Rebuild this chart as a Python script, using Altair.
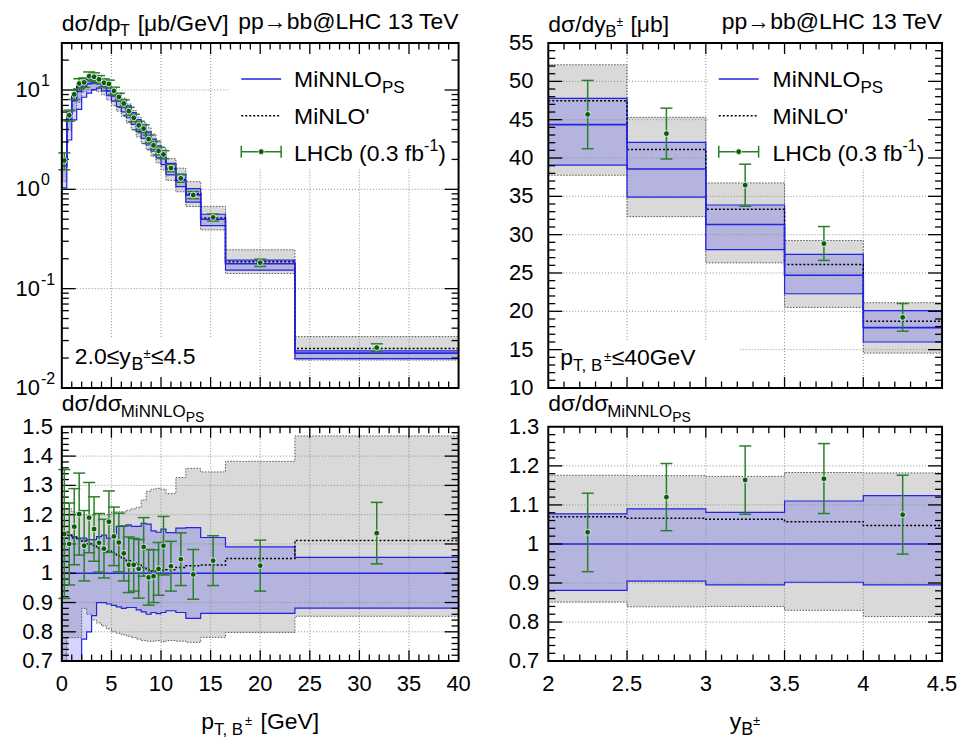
import altair as alt
import pandas as pd

# ---------------- p_T(B+-) spectrum, 2.0 <= y <= 4.5 ----------------
pt_edges = [0, 0.5, 1, 1.5, 2, 2.5, 3, 3.5, 4, 4.5, 5, 5.5, 6, 6.5, 7, 7.5, 8, 8.5, 9,
            9.5, 10, 10.5, 11.5, 12.5, 14, 16.5, 23.5, 40]
# MiNNLO_PS central value [mub/GeV]
pt_minnlo = [1.72, 5.06, 7.8, 9.67, 10.9, 11.6, 11.8, 11.6, 10.9, 9.8, 8.7, 7.7, 6.85, 5.95,
             5.1, 4.35, 3.75, 3.25, 2.8, 2.4, 2.05, 1.6, 1.23, 0.88, 0.50, 0.178, 0.0224]
# everything below relative to MiNNLO_PS central
pt_minnlo_up = [1.14, 1.13, 1.125, 1.12, 1.12, 1.115, 1.115, 1.125, 1.13, 1.12, 1.13, 1.16, 1.16,
                1.165, 1.16, 1.16, 1.17, 1.168, 1.145, 1.14, 1.151, 1.139, 1.154, 1.156, 1.122,
                1.090, 1.054]
pt_minnlo_lo = [0.60, 0.62, 0.64, 0.66, 0.775, 0.80, 0.855, 0.90, 0.90, 0.895, 0.89, 0.885, 0.88,
                0.883, 0.883, 0.875, 0.868, 0.86, 0.866, 0.862, 0.866, 0.872, 0.866, 0.846, 0.863,
                0.863, 0.881]
pt_minlo = [1.14, 1.13, 1.12, 1.115, 1.11, 1.10, 1.095, 1.085, 1.08, 1.075, 1.07, 1.06, 1.05,
            1.043, 1.035, 1.03, 1.02, 1.012, 1.008, 1.008, 1.01, 1.012, 1.02, 1.026, 1.028,
            1.05, 1.112]
pt_minlo_up = [1.22, 1.22, 1.21, 1.20, 1.20, 1.20, 1.20, 1.20, 1.20, 1.20, 1.21, 1.21, 1.21,
               1.215, 1.22, 1.225, 1.25, 1.28, 1.287, 1.29, 1.287, 1.272, 1.327, 1.358, 1.346,
               1.382, 1.469]
pt_minlo_lo = [0.70, 0.78, 0.78, 0.78, 0.88, 0.86, 0.84, 0.83, 0.82, 0.81, 0.80, 0.795, 0.79,
               0.785, 0.78, 0.775, 0.77, 0.768, 0.768, 0.77, 0.766, 0.77, 0.768, 0.764, 0.781,
               0.798, 0.853]
pt_lhcb = [1.134, 1.10, 1.159, 1.202, 1.094, 1.19, 1.151, 1.104, 1.084, 1.176, 1.126, 1.105,
           1.068, 1.029, 1.029, 1.015, 1.09, 0.986, 0.99, 1.015, 1.094, 1.024, 1.048, 0.996,
           1.043, 1.026, 1.137]
pt_lhcb_err = [0.22, 0.14, 0.13, 0.14, 0.12, 0.12, 0.11, 0.10, 0.10, 0.105, 0.10, 0.10, 0.094,
               0.095, 0.09, 0.10, 0.10, 0.095, 0.09, 0.09, 0.10, 0.085, 0.09, 0.085, 0.085,
               0.087, 0.105]

# ---------------- y(B+-) spectrum, pT <= 40 GeV ----------------
y_edges = [2, 2.5, 3, 3.5, 4, 4.5]
y_minnlo = [44.36, 38.56, 31.33, 24.71, 17.87]
y_minnlo_up = [1.077, 1.090, 1.081, 1.110, 1.124]
y_minnlo_lo = [0.881, 0.905, 0.895, 0.902, 0.895]
y_minlo = [1.070, 1.066, 1.063, 1.057, 1.047]
y_minlo_up = [1.176, 1.175, 1.173, 1.183, 1.182]
y_minlo_lo = [0.851, 0.839, 0.840, 0.830, 0.814]
y_lhcb = [1.030, 1.120, 1.164, 1.167, 1.075]
y_lhcb_lo = [0.929, 1.034, 1.076, 1.078, 0.974]
y_lhcb_hi = [1.130, 1.206, 1.251, 1.257, 1.176]

# ---------------- axis ticks / labels ----------------
pt_labels = [0, 5, 10, 15, 20, 25, 30, 35, 40]
pt_major = [5, 10, 15, 20, 25, 30, 35]
pt_minor = [v for v in range(1, 40) if v % 5]
yb_labels = [2, 2.5, 3, 3.5, 4, 4.5]
yb_major = [2.5, 3, 3.5, 4]
yb_minor = [round(2 + 0.1 * i, 2) for i in range(1, 25) if i % 5]
log_labels = [0.01, 0.1, 1, 10]
log_exps = ["-2", "-1", "0", "1"]
log_major = [0.1, 1, 10]
log_minor = [m * d for d in (0.01, 0.1, 1, 10) for m in range(2, 10) if m * d < 29.7]
lin_labels = [10, 15, 20, 25, 30, 35, 40, 45, 50, 55]
lin_major = [15, 20, 25, 30, 35, 40, 45, 50]
lin_minor = [v for v in range(11, 55) if v % 5]
r1_labels = [0.7, 0.8, 0.9, 1.0, 1.1, 1.2, 1.3, 1.4, 1.5]
r1_major = [0.8, 0.9, 1.0, 1.1, 1.2, 1.3, 1.4]
r1_minor = [round(0.7 + 0.02 * i, 3) for i in range(1, 40) if i % 5]
r2_labels = [0.7, 0.8, 0.9, 1.0, 1.1, 1.2, 1.3]
r2_major = [0.8, 0.9, 1.0, 1.1, 1.2]
r2_minor = [round(0.7 + 0.02 * i, 3) for i in range(1, 30) if i % 5]

# ---------------- style ----------------
FONT = "Liberation Sans"
BLUE = "#2323e0"
BLUEFILL = "#0000ff"
GRAYFILL = "#d9d9d9"
GRAYLINE = "#555555"
GRIDC = "#8f8f8f"
GREEN = "#2a7f2a"
DOT = "#0a5e0a"
ONE = pd.DataFrame({"d": [0]})

CW = {' ': .278, '(': .333, ')': .333, ',': .278, '-': .333, '.': .278, '/': .278, "'": .191,
      '@': 1.015, '[': .278, ']': .278, 'A': .667, 'B': .667, 'C': .722, 'G': .778, 'H': .722,
      'L': .556, 'M': .833, 'N': .722, 'O': .778, 'P': .667, 'S': .667, 'T': .611, 'V': .667,
      'b': .556, 'd': .556, 'e': .556, 'f': .278, 'i': .222, 'p': .556, 'y': .5, '±': .584,
      '≤': .584, 'σ': .59, 'μ': .577, '→': 1.0}


def tw(s, size):
    return sum(CW.get(c, 0.556) for c in s) * size


def txt(t, x, y, size=23, align="left", baseline="alphabetic"):
    return alt.Chart(ONE).mark_text(text=t, font=FONT, fontSize=size, align=align,
                                    baseline=baseline, color="black").encode(
        x=alt.value(x), y=alt.value(y))


def rich(pieces, x0, y0, center=False):
    total = sum(tw(p[0], p[1]) + (p[3] if len(p) > 3 else 0) for p in pieces)
    x = x0 - total / 2 if center else x0
    out = []
    for p in pieces:
        t, s, dy = p[0], p[1], p[2]
        x += p[3] if len(p) > 3 else 0
        out.append(txt(t, x, y0 + dy, s))
        x += tw(t, s)
    return out


def rule_px(x, x2, y, y2, color, width, dash=None, opacity=1):
    kw = dict(color=color, strokeWidth=width, opacity=opacity)
    if dash:
        kw["strokeDash"] = dash
    return alt.Chart(ONE).mark_rule(**kw).encode(
        x=alt.value(x), x2=alt.value(x2), y=alt.value(y), y2=alt.value(y2))


def box_px(x, x2, y, y2):
    return alt.Chart(ONE).mark_rect(color="white").encode(
        x=alt.value(x), x2=alt.value(x2), y=alt.value(y), y2=alt.value(y2))


def legend(x0, tx):
    out = [rule_px(x0, x0 + 40, 36, 36, BLUE, 1.6)]
    out += rich([("MiNNLO", 23, 0), ("PS", 17, 6)], tx, 44)
    out.append(rule_px(x0, x0 + 40, 73, 73, "black", 1.5, [2, 2]))
    out += rich([("MiNLO'", 23, 0)], tx, 81)
    out.append(rule_px(x0, x0 + 40, 109, 109, GREEN, 1.5))
    out.append(rule_px(x0, x0, 103, 115, GREEN, 1.5))
    out.append(rule_px(x0 + 40, x0 + 40, 103, 115, GREEN, 1.5))
    out.append(alt.Chart(ONE).mark_circle(size=34, color=DOT, opacity=1, stroke="white",
                                          strokeWidth=0.8).encode(
        x=alt.value(x0 + 20), y=alt.value(109)))
    out += rich([("LHCb (0.3 fb", 23, 0), ("-1", 16, -10), (")", 23, 0)], tx, 118)
    return out


def fmt(v):
    return f"{v:g}"


def panel(edges, central, nn_up, nn_lo, nl_c, nl_up, nl_lo, d_c, d_lo, d_hi, ratio,
          xscale, yscale, W, H, xgrid, ygrid, xlab, ylab, ypad,
          xmaj, xmin, ymaj, ymin, bg, fg):
    n = len(central)
    f = [1.0] * n if ratio else list(central)

    def sc(v):
        return [a * b for a, b in zip(v, f)]

    def st(v):
        s = sc(v)
        return s + [s[-1]]

    xs = list(edges[:-1]) + [edges[-1]]
    nn_c = [c / c for c in central]
    band = pd.DataFrame({"x": xs, "gup": st(nl_up), "glo": st(nl_lo), "bup": st(nn_up),
                         "blo": st(nn_lo), "gc": st(nl_c), "bc": st(nn_c)})
    pts = pd.DataFrame({"xc": [(a + b) / 2 for a, b in zip(edges[:-1], edges[1:])],
                        "y": sc(d_c), "lo": sc(d_lo), "hi": sc(d_hi)})
    X = alt.X("x:Q", scale=xscale, axis=None)

    def Y(fld):
        return alt.Y(f"{fld}:Q", scale=yscale, axis=None)

    b = alt.Chart(band)
    layers = [
        b.mark_area(interpolate="step-after", color=GRAYFILL, clip=True).encode(
            x=X, y=Y("glo"), y2=alt.Y2("gup")),
        b.mark_area(interpolate="step-after", color=BLUEFILL, fillOpacity=0.17, clip=True).encode(
            x=X, y=Y("blo"), y2=alt.Y2("bup")),
    ]
    # dotted grid (drawn over the bands, under legend boxes)
    layers.append(alt.Chart(pd.DataFrame({"t": xgrid})).mark_rule(
        color=GRIDC, strokeWidth=1, strokeDash=[1, 2]).encode(
        x=alt.X("t:Q", scale=xscale, axis=None), y=alt.value(0), y2=alt.value(H)))
    layers.append(alt.Chart(pd.DataFrame({"t": ygrid})).mark_rule(
        color=GRIDC, strokeWidth=1, strokeDash=[1, 2]).encode(
        y=alt.Y("t:Q", scale=yscale, axis=None), x=alt.value(0), x2=alt.value(W)))
    layers += bg
    layers += [
        b.mark_line(interpolate="step-after", color=GRAYLINE, strokeWidth=1,
                    strokeDash=[1.5, 1.5], clip=True).encode(x=X, y=Y("gup")),
        b.mark_line(interpolate="step-after", color=GRAYLINE, strokeWidth=1,
                    strokeDash=[1.5, 1.5], clip=True).encode(x=X, y=Y("glo")),
        b.mark_line(interpolate="step-after", color=BLUE, strokeWidth=1.2, clip=True).encode(
            x=X, y=Y("bup")),
        b.mark_line(interpolate="step-after", color=BLUE, strokeWidth=1.2, clip=True).encode(
            x=X, y=Y("blo")),
        b.mark_line(interpolate="step-after", color="black", strokeWidth=1.5,
                    strokeDash=[2, 2], clip=True).encode(x=X, y=Y("gc")),
        b.mark_line(interpolate="step-after", color=BLUE, strokeWidth=1.6, clip=True).encode(
            x=X, y=Y("bc")),
    ]
    # inward ticks on all four sides
    for vals, L in ((xmaj, 11), (xmin, 6.5)):
        c = alt.Chart(pd.DataFrame({"t": vals}))
        XT = alt.X("t:Q", scale=xscale, axis=None)
        layers.append(c.mark_rule(color="black", strokeWidth=1.3).encode(
            x=XT, y=alt.value(0), y2=alt.value(L)))
        layers.append(c.mark_rule(color="black", strokeWidth=1.3).encode(
            x=XT, y=alt.value(H - L), y2=alt.value(H)))
    for vals, L in ((ymaj, 14), (ymin, 7)):
        c = alt.Chart(pd.DataFrame({"t": vals}))
        YT = alt.Y("t:Q", scale=yscale, axis=None)
        layers.append(c.mark_rule(color="black", strokeWidth=1.3).encode(
            y=YT, x=alt.value(0), x2=alt.value(L)))
        layers.append(c.mark_rule(color="black", strokeWidth=1.3).encode(
            y=YT, x=alt.value(W - L), x2=alt.value(W)))
    # tick labels
    if xlab:
        layers.append(alt.Chart(pd.DataFrame({"t": xlab, "s": [fmt(v) for v in xlab]})).mark_text(
            font=FONT, fontSize=22, align="center", baseline="top", color="black").encode(
            x=alt.X("t:Q", scale=xscale, axis=None), y=alt.value(H + 13), text="s:N"))
    if ylab:
        layers.append(alt.Chart(pd.DataFrame({"t": ylab, "s": [fmt(v) for v in ylab]})).mark_text(
            font=FONT, fontSize=22, align="right", baseline="middle", color="black").encode(
            y=alt.Y("t:Q", scale=yscale, axis=None), x=alt.value(-ypad), text="s:N"))
    p = alt.Chart(pts)
    XC = alt.X("xc:Q", scale=xscale, axis=None)
    layers += [
        p.mark_rule(color=GREEN, strokeWidth=1.5).encode(x=XC, y=Y("lo"), y2=alt.Y2("hi")),
        p.mark_tick(orient="horizontal", size=12, thickness=1.5, color=GREEN, opacity=1).encode(
            x=XC, y=Y("lo")),
        p.mark_tick(orient="horizontal", size=12, thickness=1.5, color=GREEN, opacity=1).encode(
            x=XC, y=Y("hi")),
        p.mark_circle(size=34, color=DOT, opacity=1, stroke="white", strokeWidth=0.8).encode(
            x=XC, y=Y("y")),
    ]
    layers += fg
    layers.append(alt.Chart(ONE).mark_rect(fillOpacity=0, stroke="black", strokeWidth=2).encode(
        x=alt.value(0), x2=alt.value(W), y=alt.value(0), y2=alt.value(H)))
    return alt.layer(*layers).properties(width=W, height=H)


W1, W2, HT, HB = 398, 395, 346, 235
sx_pt = alt.Scale(domain=[0, 40], nice=False, zero=False)
sx_y = alt.Scale(domain=[2, 4.5], nice=False, zero=False)
sy_log = alt.Scale(type="log", domain=[0.01, 29.7], nice=False)
sy_lin = alt.Scale(domain=[10, 55], nice=False, zero=False)
sy_r1 = alt.Scale(domain=[0.7, 1.5], nice=False, zero=False)
sy_r2 = alt.Scale(domain=[0.7, 1.3], nice=False, zero=False)

TITLE_PP = "pp→bb@LHC 13 TeV"
TB = -12  # title baseline

# ---- top left ----
loglab = pd.DataFrame({"v": log_labels, "e": log_exps})
tl_fg = legend(180, 233)
tl_fg += rich([("dσ/dp", 23, 0), ("T", 16, 5), ("[μb/GeV]", 23, 0, 8)], 0, TB)
tl_fg.append(txt(TITLE_PP, W1, TB - 2, 23, align="right"))
tl_fg += rich([("2.0≤y", 23, 0), ("B", 18, 6), ("±", 13, -6), ("≤4.5", 23, 0)], 13, 322)
tl_fg.append(alt.Chart(loglab).mark_text(text="10", font=FONT, fontSize=22, align="right",
                                         baseline="middle", color="black").encode(
    x=alt.value(-22), y=alt.Y("v:Q", scale=sy_log, axis=None)))
tl_fg.append(alt.Chart(loglab).mark_text(font=FONT, fontSize=16, align="left",
                                         baseline="middle", dy=-9, color="black").encode(
    x=alt.value(-21), y=alt.Y("v:Q", scale=sy_log, axis=None), text="e:N"))
tl_fg.append(rule_px(-54, -54, -34, -25, "white", 1, opacity=0))
tl = panel(pt_edges, pt_minnlo, pt_minnlo_up, pt_minnlo_lo, pt_minlo, pt_minlo_up, pt_minlo_lo,
           pt_lhcb, [a - e for a, e in zip(pt_lhcb, pt_lhcb_err)],
           [a + e for a, e in zip(pt_lhcb, pt_lhcb_err)], False,
           sx_pt, sy_log, W1, HT, pt_major, log_major, None, None, 0,
           pt_major, pt_minor, log_major + [0.01], log_minor,
           [box_px(168, 397, 1.5, 126), box_px(5, 192, 296, 345)], tl_fg)

# ---- top right ----
tr_fg = legend(171, 225)
tr_fg += rich([("dσ/dy", 23, 0), ("B", 17, 5), ("±", 12, -6), ("[μb]", 23, 0, 7)], 0, TB + 1)
tr_fg.append(txt(TITLE_PP, W2, TB - 2, 23, align="right"))
tr_fg += rich([("p", 23, 0), ("T, B", 17, 6), ("±", 13, -4), ("≤40GeV", 23, 0)], 12, 323)
tr = panel(y_edges, y_minnlo, y_minnlo_up, y_minnlo_lo, y_minlo, y_minlo_up, y_minlo_lo,
           y_lhcb, y_lhcb_lo, y_lhcb_hi, False,
           sx_y, sy_lin, W2, HT, yb_major, lin_major, None, lin_labels, 15,
           yb_major, yb_minor, lin_major, lin_minor,
           [box_px(160, 394, 1.5, 126), box_px(5, 192, 298, 345)], tr_fg)

# ---- bottom left ----
bl_fg = rich([("dσ/dσ", 23, 0), ("MiNNLO", 17, 6), ("PS", 14, 11)], 0, -16)
bl_fg += rich([("p", 23, 0), ("T, B", 17, 6), ("±", 13, -4), ("[GeV]", 23, 0, 8)],
              W1 / 2, 303, center=True)
bl = panel(pt_edges, pt_minnlo, pt_minnlo_up, pt_minnlo_lo, pt_minlo, pt_minlo_up, pt_minlo_lo,
           pt_lhcb, [a - e for a, e in zip(pt_lhcb, pt_lhcb_err)],
           [a + e for a, e in zip(pt_lhcb, pt_lhcb_err)], True,
           sx_pt, sy_r1, W1, HB, pt_major, r1_major, pt_labels, r1_labels, 9,
           pt_major, pt_minor, r1_major, r1_minor, [], bl_fg)

# ---- bottom right ----
br_fg = rich([("dσ/dσ", 23, 0), ("MiNNLO", 17, 6), ("PS", 14, 11)], 0, -16)
br_fg += rich([("y", 23, 0), ("B", 18, 6), ("±", 13, -4)], W2 / 2, 303, center=True)
br = panel(y_edges, y_minnlo, y_minnlo_up, y_minnlo_lo, y_minlo, y_minlo_up, y_minlo_lo,
           y_lhcb, y_lhcb_lo, y_lhcb_hi, True,
           sx_y, sy_r2, W2, HB, yb_major, r2_major, yb_labels, r2_labels, 9,
           yb_major, yb_minor, r2_major, r2_minor, [], br_fg)

chart = alt.concat(tl, tr, bl, br, columns=2,
                   spacing=alt.RowColnumber(row=39, column=90),
                   bounds="flush", align="each").properties(
    padding=0, background="white"
).configure_view(stroke=None)

chart.save("out.html", embed_options={"renderer": "svg", "actions": False})
